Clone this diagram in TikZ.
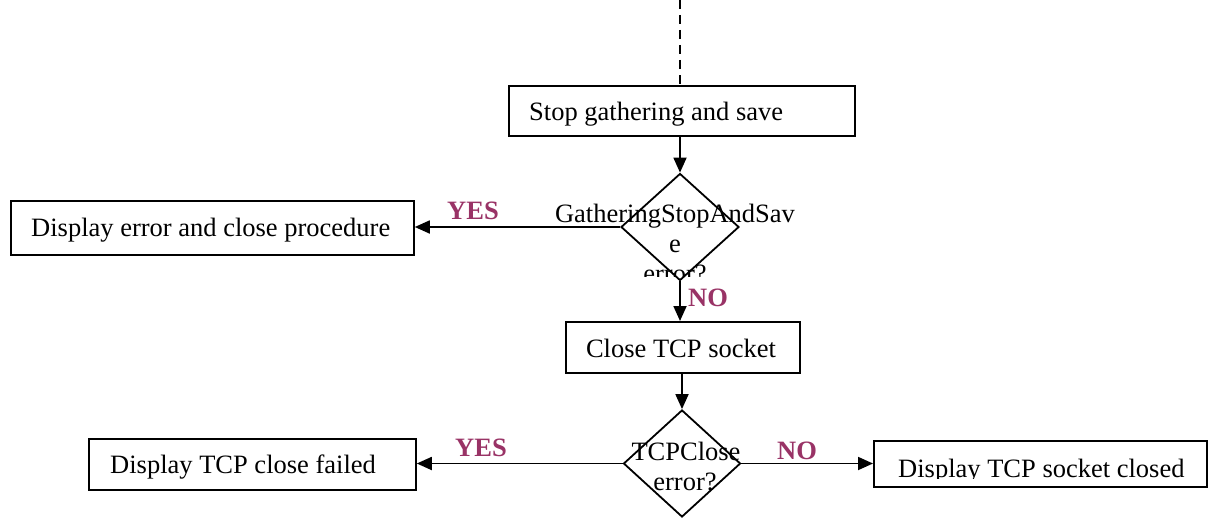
\documentclass[tikz,border=0pt]{standalone}
\usepackage{fontspec}
\setmainfont{Liberation Serif}
\usetikzlibrary{shapes.geometric,arrows.meta}
\definecolor{lblcol}{RGB}{153,51,102}
\begin{document}
\begin{tikzpicture}[x=1pt,y=-1pt,
  boxnode/.style={draw,line width=1.8pt,inner sep=0pt,anchor=north west},
  decnode/.style={draw,diamond,line width=1.8pt,inner sep=0pt},
  txt/.style={inner sep=0pt,font=\fontsize{26.5}{30}\selectfont},
  lbl/.style={inner sep=0pt,anchor=base west,text=lblcol,font=\fontsize{26.5}{30}\selectfont\bfseries},
  arr/.style={line width=1.8pt,-{Triangle[length=15pt,width=13pt]}}]
\useasboundingbox (0,0) rectangle (1220,519);
% boxes
\node[boxnode,minimum width=346pt,minimum height=50pt] (b1) at (508,85) {};
\node[boxnode,minimum width=403pt,minimum height=54pt] (b2) at (10,200) {};
\node[boxnode,minimum width=234pt,minimum height=51pt] (b3) at (565,321) {};
\node[boxnode,minimum width=327pt,minimum height=51pt] (b4) at (88,438) {};
\node[boxnode,minimum width=333pt,minimum height=46pt] (b5) at (873,440) {};
% diamonds
\node[decnode,minimum width=118pt,minimum height=107pt] (d1) at (680,227) {};
\node[decnode,minimum width=117pt,minimum height=107pt] (d2) at (682,463.5) {};
% texts
\node[txt,anchor=base west] (t1) at (529,120) {Stop gathering and save};
\node[txt,anchor=base west] (t2) at (31,236) {Display error and close procedure};
\node[txt,anchor=base] (t3) at (681,357) {Close TCP socket};
\node[txt,anchor=base west] (t4) at (110,473) {Display TCP close failed};
\begin{scope}
\clip (0,0) rectangle (1220,478);
\node[txt,anchor=base west] (t5) at (898,477) {Display TCP socket closed};
\end{scope}
\node[txt,anchor=base] (t6) at (675,222) {GatheringStopAndSav};
\node[txt,anchor=base] (t7) at (675,252) {e};
\begin{scope}
\clip (0,0) rectangle (1220,276);
\node[txt,anchor=base] (t8) at (675,282) {error?};
\end{scope}
\node[txt,anchor=base] (t9) at (686,460) {TCPClose};
\node[txt,anchor=base] (t10) at (685,490) {error?};
% labels
\node[lbl] (y1) at (447,219) {YES};
\node[lbl] (n1) at (688,306) {NO};
\node[lbl] (y2) at (455,456) {YES};
\node[lbl] (n2) at (777,459) {NO};
% connectors
\coordinate (top) at (680,0);
\draw[line width=1.8pt,dash pattern=on 9pt off 6pt] (top) -- (b1.north -| top);
\draw[arr] (b1.south -| d1) -- (d1.north);
\draw[arr] (d1.west) -- (b2.east |- d1.west);
\draw[arr] (d1.south) -- (b3.north -| d1.south);
\draw[arr] (b3.south -| d2) -- (d2.north);
\draw[arr] (d2.west) -- (b4.east |- d2.west);
\draw[arr] (d2.east) -- (b5.west |- d2.east);
\end{tikzpicture}
\end{document}
